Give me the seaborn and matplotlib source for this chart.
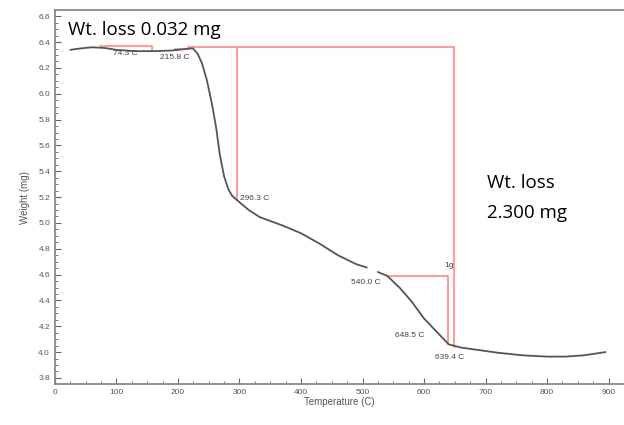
import numpy as np
import pandas as pd
import seaborn as sns
import matplotlib.pyplot as plt
from matplotlib.ticker import MultipleLocator

# TGA curve (temperature in C, weight in mg)
temp_a = [25, 40, 60, 80, 100, 130, 160, 190, 210, 224, 232, 239, 247, 255, 262,
          268, 275, 282, 288, 296, 315, 333, 370, 400, 430, 460, 490, 507]
weight_a = [6.34, 6.35, 6.36, 6.355, 6.34, 6.33, 6.33, 6.335, 6.345, 6.352, 6.31,
            6.236, 6.105, 5.927, 5.74, 5.53, 5.36, 5.26, 5.21, 5.177, 5.1,
            5.045, 4.98, 4.92, 4.84, 4.75, 4.68, 4.655]
temp_b = [525, 540, 560, 580, 600, 620, 640, 660, 690, 720, 760, 800, 830, 860, 895]
weight_b = [4.62, 4.59, 4.5, 4.39, 4.26, 4.16, 4.06, 4.035, 4.015, 3.995, 3.975,
            3.965, 3.965, 3.975, 4.0]

# step markers
step_labels = ["74.3 C", "215.8 C", "296.3 C", "540.0 C", "648.5 C", "639.4 C"]

sns.set_style("ticks")
plt.rcParams['font.family'] = ['Liberation Sans', 'DejaVu Sans']

fig = plt.figure(figsize=(6.24, 4.25), dpi=100)
ax = fig.add_axes([0.088, 0.0965, 0.912, 0.8795])

df_a = pd.DataFrame({'Temperature': temp_a, 'Weight': weight_a})
df_b = pd.DataFrame({'Temperature': temp_b, 'Weight': weight_b})
sns.lineplot(data=df_a, x='Temperature', y='Weight', color='#555555', lw=1.3, ax=ax)
sns.lineplot(data=df_b, x='Temperature', y='Weight', color='#555555', lw=1.3, ax=ax)

red = '#ff8c8c'
kw = dict(color=red, lw=1.5, alpha=0.85, zorder=1)
# first small step
ax.plot([73, 157, 157], [6.37, 6.37, 6.335], **kw)
ax.plot([195, 216], [6.345, 6.345], **kw)
# main step
ax.plot([216, 648.5, 648.5], [6.36, 6.36, 4.04], **kw)
ax.plot([296.3, 296.3], [6.36, 5.18], **kw)
# second step
ax.plot([540, 639.4, 639.4], [4.59, 4.59, 4.06], **kw)

small = dict(fontsize=6, color='#444444')
ax.text(115, 6.31, step_labels[0], ha='center', va='center', **small)
ax.text(218, 6.28, step_labels[1], ha='right', va='center', **small)
ax.text(301, 5.19, step_labels[2], ha='left', va='center', **small)
ax.text(530, 4.535, step_labels[3], ha='right', va='center', **small)
ax.text(577, 4.13, step_labels[4], ha='center', va='center', **small)
ax.text(642, 3.955, step_labels[5], ha='center', va='center', **small)
ax.text(640, 4.67, "1g", ha='center', va='center', **small)

big = dict(fontsize=13.5, color='black', family=['Open Sans', 'DejaVu Sans'],
           va='center')
ax.text(22, 6.49, "Wt. loss 0.032 mg", **big)
ax.text(702, 5.31, "Wt. loss", **big)
ax.text(702, 5.075, "2.300 mg", **big)

ax.set_xlim(0, 925)
ax.set_ylim(3.753, 6.647)
ax.xaxis.set_major_locator(MultipleLocator(100))
ax.xaxis.set_minor_locator(MultipleLocator(25))
ax.yaxis.set_major_locator(MultipleLocator(0.2))
ax.yaxis.set_minor_locator(MultipleLocator(0.05))
ax.yaxis.set_major_formatter(plt.FuncFormatter(lambda v, p: f"{v:.1f}"))
ax.tick_params(which='both', direction='in', colors='#666666', labelsize=6,
               labelcolor='#555555')
ax.tick_params(which='major', length=4, width=0.8)
ax.tick_params(which='minor', length=2, width=0.6)
ax.set_xlabel("Temperature (C)", fontsize=7, color='#555555', labelpad=1)
ax.set_ylabel("Weight (mg)", fontsize=7, color='#555555', labelpad=6)
for s in ax.spines.values():
    s.set_color('#888888')
    s.set_linewidth(1.3)
ax.spines['right'].set_visible(False)

plt.savefig('out.png', dpi=100)
